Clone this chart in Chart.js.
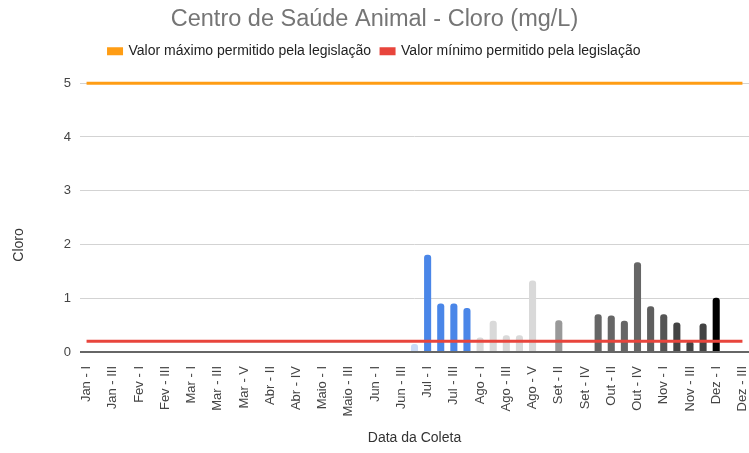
<!DOCTYPE html>
<html>
<head>
<meta charset="utf-8">
<script src="https://cdn.jsdelivr.net/npm/chart.js@4/dist/chart.umd.min.js"></script>
<style>
  html, body { margin: 0; padding: 0; background: #fff; }
  #wrap { width: 749px; height: 453px; }
</style>
</head>
<body>
<div id="wrap"><canvas id="grafico"></canvas></div>
<script>
// coletas (categorias do eixo x)
var coletas = [
  "Jan - I", "Jan - II", "Jan - III", "Jan - IV",
  "Fev - I", "Fev - II", "Fev - III", "Fev - IV",
  "Mar - I", "Mar - II", "Mar - III", "Mar - IV", "Mar - V",
  "Abr - I", "Abr - II", "Abr - III", "Abr - IV", "Abr - V",
  "Maio - I", "Maio - II", "Maio - III", "Maio - IV",
  "Jun - I", "Jun - II", "Jun - III", "Jun - IV",
  "Jul - I", "Jul - II", "Jul - III", "Jul - IV",
  "Ago - I", "Ago - II", "Ago - III", "Ago - IV", "Ago - V",
  "Set - I", "Set - II", "Set - III", "Set - IV",
  "Out - I", "Out - II", "Out - III", "Out - IV", "Out - V",
  "Nov - I", "Nov - II", "Nov - III", "Nov - IV",
  "Dez - I", "Dez - II", "Dez - III"
];

// cloro medido (mg/L), null = sem coleta
var cloro = [
  null, null, null, null,
  null, null, null, null,
  null, null, null, null, null,
  null, null, null, null, null,
  null, null, null, null,
  null, null, null, 0.15,
  1.81, 0.9, 0.9, 0.82,
  0.27, 0.58, 0.31, 0.31, 1.33,
  null, 0.59, null, null,
  0.7, 0.68, 0.58, 1.67, 0.85,
  0.7, 0.55, 0.2, 0.53,
  1.01, null, null
];

// cor de cada barra
var coresBarras = [
  "#fff", "#fff", "#fff", "#fff",
  "#fff", "#fff", "#fff", "#fff",
  "#fff", "#fff", "#fff", "#fff", "#fff",
  "#fff", "#fff", "#fff", "#fff", "#fff",
  "#fff", "#fff", "#fff", "#fff",
  "#fff", "#fff", "#fff", "#c9daf8",
  "#4a86e8", "#4a86e8", "#4a86e8", "#4a86e8",
  "#d9d9d9", "#d9d9d9", "#d9d9d9", "#d9d9d9", "#d9d9d9",
  "#fff", "#999999", "#fff", "#fff",
  "#666666", "#666666", "#666666", "#666666", "#5f5f5f",
  "#555555", "#434343", "#434343", "#434343",
  "#000000", "#fff", "#fff"
];

var valorMaximo = 5;
var valorMinimo = 0.2;

var linhaMax = coletas.map(function () { return valorMaximo; });
var linhaMin = coletas.map(function () { return valorMinimo; });

var fonte = "'Liberation Sans', Arial, sans-serif";

// legenda mais alta, para afastar o grafico
var legendaAlta = {
  id: "legendaAlta",
  beforeInit: function (chart) {
    var fitOriginal = chart.legend.fit;
    chart.legend.fit = function () {
      fitOriginal.bind(chart.legend)();
      this.height = 49;
    };
  }
};

// titulo do eixo y desenhado a mao (fica mais baixo que o centro)
var tituloY = {
  id: "tituloY",
  afterDraw: function (chart) {
    var c = chart.ctx;
    c.save();
    c.translate(19, 245);
    c.rotate(-Math.PI / 2);
    c.fillStyle = "#333";
    c.font = "14px " + fonte;
    c.textAlign = "center";
    c.textBaseline = "middle";
    c.fillText("Cloro", 0, 0);
    c.restore();
  }
};

var ctx = document.getElementById("grafico").getContext("2d");
var grafico = new Chart(ctx, {
  type: "bar",
  data: {
    labels: coletas,
    datasets: [
      {
        type: "line",
        label: "Valor máximo permitido pela legislação",
        data: linhaMax,
        borderColor: "#ff9d14",
        backgroundColor: "#ff9d14",
        borderWidth: 3,
        pointRadius: 0,
        clip: 4,
        order: 0
      },
      {
        type: "line",
        label: "Valor mínimo permitido pela legislação",
        data: linhaMin,
        borderColor: "#e8453c",
        backgroundColor: "#e8453c",
        borderWidth: 3,
        pointRadius: 0,
        clip: 4,
        order: 0
      },
      {
        label: "Cloro",
        data: cloro,
        backgroundColor: coresBarras,
        borderRadius: { topLeft: 3, topRight: 3 },
        borderSkipped: "bottom",
        barPercentage: 0.54,
        categoryPercentage: 1,
        order: 1
      }
    ]
  },
  options: {
    responsive: true,
    maintainAspectRatio: false,
    animation: false,
    layout: { padding: { left: 0, right: 0, top: 0, bottom: 3 } },
    plugins: {
      title: {
        display: true,
        text: "Centro de Saúde Animal - Cloro (mg/L)",
        color: "#757575",
        font: { family: fonte, size: 23.5, weight: "normal" },
        padding: { top: 5, bottom: 1 }
      },
      legend: {
        display: true,
        labels: {
          filter: function (item) { return item.datasetIndex < 2; },
          color: "#222",
          font: { family: fonte, size: 14 },
          boxWidth: 13,
          boxHeight: 5,
          padding: 10
        }
      },
      tooltip: { enabled: false }
    },
    scales: {
      x: {
        grid: { display: false },
        border: { display: false },
        afterFit: function (scale) {
          scale.height = 98;
          scale.paddingLeft = 0;
          scale.paddingRight = 0;
        },
        ticks: {
          autoSkip: false,
          maxRotation: 90,
          minRotation: 90,
          padding: 6,
          color: "#444",
          font: { family: fonte, size: 13 },
          callback: function (val, i) { return i % 2 === 0 ? coletas[i] : ""; }
        },
        title: {
          display: true,
          text: "Data da Coleta",
          color: "#333",
          font: { family: fonte, size: 14 },
          padding: { top: 5, bottom: 3 }
        }
      },
      y: {
        min: 0,
        max: 5,
        afterFit: function (scale) { scale.width = 80; },
        ticks: {
          stepSize: 1,
          color: "#444",
          font: { family: fonte, size: 13 },
          padding: 9
        },
        border: { display: false },
        grid: {
          color: function (c) { return c.tick && c.tick.value === 0 ? "#666" : "#d3d3d3"; },
          lineWidth: function (c) { return c.tick && c.tick.value === 0 ? 2 : 1; },
          drawTicks: false
        }
      }
    }
  },
  plugins: [legendaAlta, tituloY]
});
</script>
</body>
</html>
